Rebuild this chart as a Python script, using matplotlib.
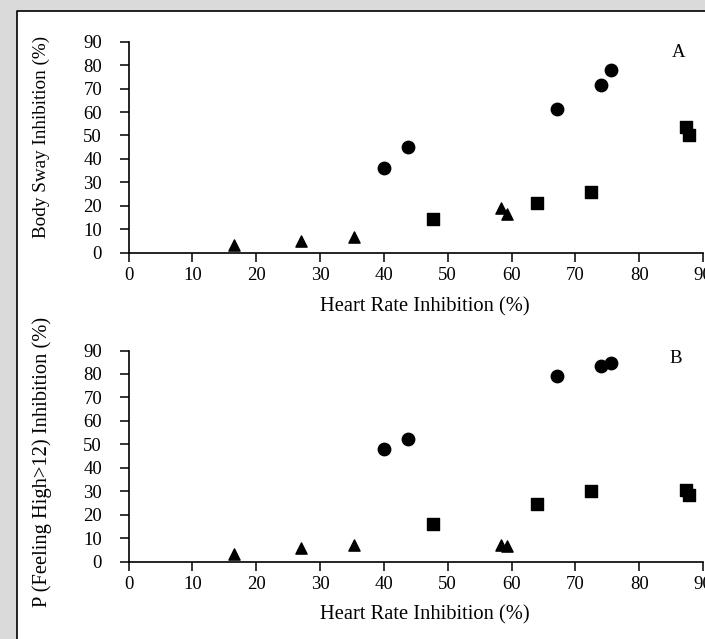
import matplotlib
matplotlib.use("Agg")
import matplotlib.pyplot as plt
from matplotlib.patches import Rectangle
from matplotlib.lines import Line2D

plt.rcParams['font.family'] = ['Liberation Serif', 'DejaVu Serif']

# Heart rate inhibition (%) — shared x values per marker group
circle_x = [40.0, 43.8, 67.2, 74.0, 75.6]
square_x = [47.7, 64.0, 72.5, 87.4, 87.8]
triangle_x = [16.5, 27.0, 35.4, 58.4, 59.3]

# Panel A: Body sway inhibition (%)
a_circle_y = [36.0, 45.0, 61.5, 71.5, 77.8]
a_square_y = [14.5, 21.0, 26.0, 53.5, 50.0]
a_triangle_y = [3.2, 4.9, 6.5, 19.0, 16.5]

# Panel B: P(Feeling High>12) inhibition (%)
b_circle_y = [47.8, 52.3, 79.0, 83.5, 84.7]
b_square_y = [16.0, 24.5, 30.0, 30.3, 28.5]
b_triangle_y = [3.4, 5.8, 7.0, 7.2, 6.8]

x_ticks = [0, 10, 20, 30, 40, 50, 60, 70, 80, 90]
y_ticks = [0, 10, 20, 30, 40, 50, 60, 70, 80, 90]

W, H = 705, 639
fig = plt.figure(figsize=(W / 100, H / 100), dpi=100)
fig.patch.set_facecolor('#dadada')

# white panel with black border on left and top
px0, py0 = 16.5 / W, (H - 10.5) / H
fig.patches.append(Rectangle((px0, 0), 1 - px0, py0, transform=fig.transFigure,
                             facecolor='white', edgecolor='none', zorder=-2))
fig.lines.append(Line2D([px0, px0, 1], [0, py0, py0], transform=fig.transFigure,
                        color='black', linewidth=1.2, zorder=-1))

panels = [
    dict(bottom=252.7, cy=a_circle_y, sy=a_square_y, ty=a_triangle_y,
         ylabel='Body Sway Inhibition (%)', ylab_fs=13.8, ylab_y=0.547,
         tag='A', tag_xy=(86.2, 85.3)),
    dict(bottom=561.5, cy=b_circle_y, sy=b_square_y, ty=b_triangle_y,
         ylabel='P (Feeling High>12) Inhibition (%)', ylab_fs=14.8, ylab_y=0.472,
         tag='B', tag_xy=(85.8, 86.8)),
]

left_px, right_px = 128.5, 703
height_px = 211

for p in panels:
    ax = fig.add_axes([left_px / W, (H - p['bottom']) / H,
                       (right_px - left_px) / W, height_px / H])
    ax.set_facecolor('none')
    ax.scatter(circle_x, p['cy'], marker='o', s=80, color='black', clip_on=False, zorder=3)
    ax.scatter(square_x, p['sy'], marker='s', s=80, color='black', clip_on=False, zorder=3)
    ax.scatter(triangle_x, p['ty'], marker='^', s=65, color='black', clip_on=False, zorder=3)
    ax.set_xlim(0, 90)
    ax.set_ylim(0, 90)
    ax.set_xticks(x_ticks)
    ax.set_yticks(y_ticks)
    ax.set_xticklabels([str(v) for v in x_ticks])
    ax.set_yticklabels([str(v) for v in y_ticks])
    for s in ('top', 'right'):
        ax.spines[s].set_visible(False)
    for s in ('left', 'bottom'):
        ax.spines[s].set_linewidth(1.2)
    ax.tick_params(axis='both', direction='out', length=6.5, width=1.1,
                   labelsize=13.5, colors='black')
    ax.tick_params(axis='y', pad=12.5)
    ax.tick_params(axis='x', pad=4)
    ax.set_xlabel('Heart Rate Inhibition (%)', fontsize=14.8)
    ax.xaxis.label.set_va('center')
    ax.xaxis.set_label_coords(0.515, -0.255)
    ax.set_ylabel(p['ylabel'], fontsize=p['ylab_fs'])
    ax.yaxis.label.set_va('center')
    ax.yaxis.set_label_coords(-0.151, p['ylab_y'])
    ax.text(p['tag_xy'][0], p['tag_xy'][1], p['tag'], fontsize=13.5,
            ha='center', va='center')

fig.savefig('out.png', dpi=100, facecolor=fig.get_facecolor())
